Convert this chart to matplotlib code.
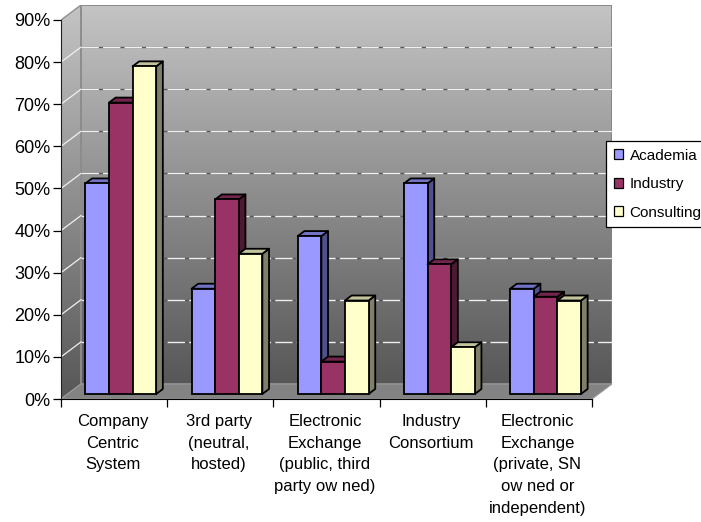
import numpy as np
import matplotlib.pyplot as plt
from matplotlib.patches import Polygon, Patch
from matplotlib.colors import LinearSegmentedColormap

plt.rcParams['font.family'] = ['Liberation Sans', 'DejaVu Sans']
plt.rcParams['lines.scale_dashes'] = False

# data
categories = ['Company\nCentric\nSystem',
              '3rd party\n(neutral,\nhosted)',
              'Electronic\nExchange\n(public, third\nparty ow ned)',
              'Industry\nConsortium',
              'Electronic\nExchange\n(private, SN\now ned or\nindependent)']
series = ['Academia', 'Industry', 'Consulting']
academia = [50.0, 25.0, 37.5, 50.0, 25.0]
industry = [69.2, 46.2, 7.7, 30.8, 23.1]
consulting = [77.8, 33.3, 22.2, 11.1, 22.2]
y_ticks = [0, 10, 20, 30, 40, 50, 60, 70, 80, 90]
y_labels = ['0%', '10%', '20%', '30%', '40%', '50%', '60%', '70%', '80%', '90%']

# front / top / side colours of each series
face_cols = ['#9999FF', '#993366', '#FFFFCC']
top_cols = ['#7373C6', '#73264D', '#C4C49C']
side_cols = ['#50508C', '#4D1A33', '#80806A']

n = len(categories)
ymax = 90
# oblique depth of the plot box, in data units
sx = 531 / n          # px per category
sy = 379 / ymax       # px per percent
DX = 20 / sx
DY = 15 / sy

fig = plt.figure(figsize=(7.01, 5.22), dpi=100)
ax = fig.add_axes([61 / 701, 1 - 399 / 522, 551 / 701, 394 / 522])

wall_cmap = LinearSegmentedColormap.from_list('wall', ['#c4c4c4', '#575757'])
grad = np.linspace(0, 1, 256).reshape(-1, 1)

# back wall
ax.imshow(grad, cmap=wall_cmap, aspect='auto', origin='upper',
          extent=(DX, n + DX, DY, ymax + DY), zorder=0)
ax.add_patch(Polygon([(DX, DY), (n + DX, DY), (n + DX, ymax + DY), (DX, ymax + DY)],
                     closed=True, fill=False, edgecolor='#808080', lw=1.2, zorder=1))

# side wall
side_poly = Polygon([(0, 0), (DX, DY), (DX, ymax + DY), (0, ymax)], closed=True,
                    facecolor='none', edgecolor='#909090', lw=1.0, zorder=1)
im = ax.imshow(grad, cmap=wall_cmap, aspect='auto', origin='upper',
               extent=(0, DX, 0, ymax + DY), zorder=0)
ax.add_patch(side_poly)
im.set_clip_path(side_poly)

# floor
ax.add_patch(Polygon([(0, 0), (n, 0), (n + DX, DY), (DX, DY)], closed=True,
                     facecolor='#838383', edgecolor='#9a9a9a', lw=0.8, zorder=1))

# gridlines on the walls
for v in y_ticks[1:-1]:
    ax.plot([DX, n + DX], [v + DY, v + DY], color='#5a5a5a', lw=1.0, zorder=2)
    ax.plot([DX, n + DX], [v + DY, v + DY], color='#f0f0f0', lw=1.0,
            dashes=(12.5, 3.0), zorder=2)
    ax.plot([0, DX], [v, v + DY], color='#f0f0f0', lw=0.9, zorder=2)

# columns: side and top faces as polygons, front face as a bar
values = [academia, industry, consulting]
w = 1 / 4.5
t0, t1 = 1 / 3, 2 / 3
z = 3
for i in range(n):
    for j in range(len(series)):
        v = values[j][i]
        x0 = i + 0.75 * w + j * w + t0 * DX
        y0 = t0 * DY
        ddx = (t1 - t0) * DX
        ddy = (t1 - t0) * DY
        side = Polygon([(x0 + w, y0), (x0 + w + ddx, y0 + ddy),
                        (x0 + w + ddx, y0 + v + ddy), (x0 + w, y0 + v)],
                       closed=True, facecolor=side_cols[j], edgecolor='black',
                       lw=1.3, joinstyle='round', zorder=z)
        top = Polygon([(x0, y0 + v), (x0 + w, y0 + v), (x0 + w + ddx, y0 + v + ddy),
                       (x0 + ddx, y0 + v + ddy)], closed=True, facecolor=top_cols[j],
                      edgecolor='black', lw=1.3, joinstyle='round', zorder=z)
        ax.add_patch(side)
        ax.add_patch(top)
        ax.bar(x0, v, width=w, bottom=y0, align='edge', color=face_cols[j],
               edgecolor='black', lw=1.3, zorder=z + 0.5)
        z += 1

ax.set_xlim(0, n + DX)
ax.set_ylim(0, ymax + DY)

for s in ['top', 'right']:
    ax.spines[s].set_visible(False)
ax.spines['left'].set_bounds(0, ymax)
ax.spines['bottom'].set_bounds(0, n)
ax.spines['left'].set_color('#202020')
ax.spines['left'].set_zorder(50)
ax.spines['bottom'].set_zorder(50)

ax.set_yticks(y_ticks)
ax.set_yticklabels(y_labels, fontsize=13)
ax.tick_params(axis='y', length=6, width=0.9, pad=1.5)

ax.set_xticks(range(n + 1))
ax.set_xticklabels([])
ax.tick_params(axis='x', which='major', length=6, width=0.9)
ax.set_xticks([i + 0.5 - 1.5 / sx for i in range(n)], minor=True)
ax.set_xticklabels(categories, minor=True, fontsize=12, linespacing=1.55)
ax.tick_params(axis='x', which='minor', length=0, pad=11)

handles = [Patch(facecolor=face_cols[j], edgecolor='black', lw=0.9) for j in range(len(series))]
leg = fig.legend(handles, series, loc='upper left',
                 bbox_to_anchor=(606 / 701, 1 - 141 / 522),
                 borderaxespad=0, fancybox=False, edgecolor='black', fontsize=11,
                 handlelength=0.6, handleheight=0.6, handletextpad=0.45,
                 labelspacing=0.95, borderpad=0.5, framealpha=1)
leg.get_frame().set_linewidth(0.9)

fig.savefig('out.png', dpi=100)
